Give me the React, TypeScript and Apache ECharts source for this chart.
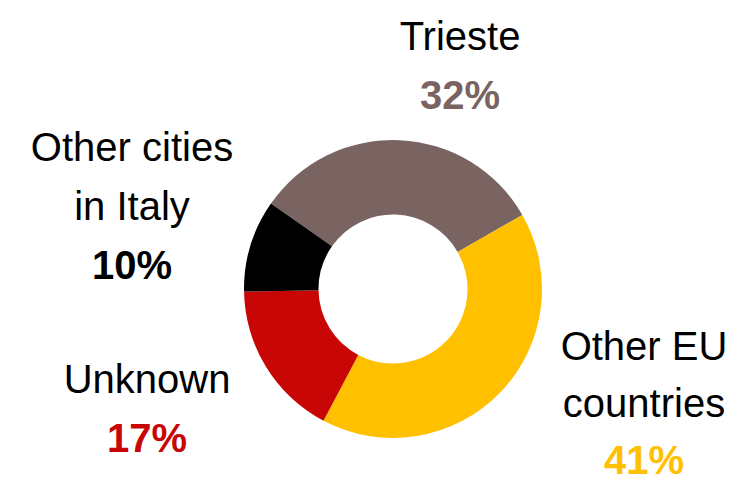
import React, { useEffect, useRef } from "react";
import * as echarts from "echarts";

const categories = ["Trieste", "Other EU countries", "Unknown", "Other cities in Italy"];
const labelLines = [["Trieste"], ["Other EU", "countries"], ["Unknown"], ["Other cities", "in Italy"]];
const values = [32, 41, 17, 10];
const colors = ["#7a6461", "#ffc000", "#c80606", "#000000"];
const labelLineHeights = [59, 57, 59, 59];
const labelPos = [
  [460, 65],
  [644, 403],
  [147, 408],
  [132, 206],
];

const FONT = "Liberation Sans, Arial, sans-serif";

export default function App() {
  const ref = useRef<HTMLDivElement>(null);
  useEffect(() => {
    document.body.style.margin = "0";
    if (!ref.current) return;
    const chart = echarts.init(ref.current, undefined, { renderer: "svg" });
    const rich: any = {};
    colors.forEach((c, i) => {
      rich["n" + i] = { fontSize: 40, lineHeight: labelLineHeights[i], color: "#000", fontFamily: FONT };
      rich["p" + i] = {
        fontSize: 40,
        lineHeight: labelLineHeights[i],
        fontWeight: "bold",
        color: c,
        fontFamily: FONT,
      };
    });
    chart.setOption({
      animation: false,
      backgroundColor: "#ffffff",
      series: [
        {
          type: "pie",
          center: [393, 289],
          radius: [74.5, 149],
          startAngle: 145,
          clockwise: true,
          avoidLabelOverlap: false,
          emphasis: { disabled: true },
          labelLine: { show: false },
          label: {
            show: true,
            position: "outside",
            formatter: (p: any) => {
              const i = p.dataIndex;
              const lines = labelLines[i].map((l) => `{n${i}|${l}}`);
              lines.push(`{p${i}|${p.value}%}`);
              return lines.join("\n");
            },
            rich,
          },
          labelLayout: (params: any) => {
            const pos = labelPos[params.dataIndex];
            return { x: pos[0], y: pos[1], align: "center", verticalAlign: "middle" };
          },
          data: categories.map((name, i) => ({
            name,
            value: values[i],
            itemStyle: { color: colors[i] },
          })),
        },
      ],
    });
    return () => chart.dispose();
  }, []);
  return <div ref={ref} style={{ width: 731, height: 483 }} />;
}
